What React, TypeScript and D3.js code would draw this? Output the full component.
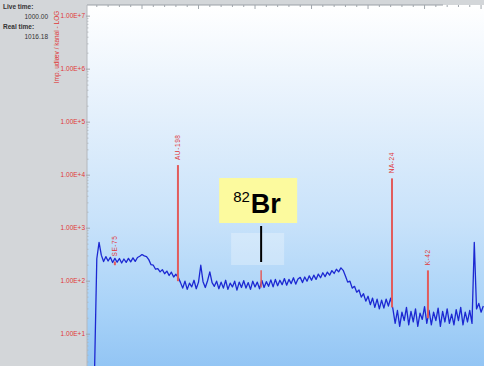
import React, { useRef, useEffect } from "react";
import * as d3 from "d3";

// spectrum counts, one value every 10 channels starting at channel 40
const channelStart = 40;
const channelStep = 10;
const counts = [
    1,
    265, 540, 310, 235, 290, 240, 282, 225, 270, 228, 268, 220, 262, 226, 270, 232, 276, 236, 280,
    295, 318, 300, 292,
    255, 205, 200, 168, 172, 150, 165, 138, 155, 128, 148, 120, 135,
    118,
    95, 74, 100, 70, 92, 78, 104, 72, 96, 200, 98, 76, 102, 150, 94, 80, 100, 72, 96, 74,
    104, 70, 92, 78, 100, 68, 96, 76, 102, 74, 94, 70, 100, 78, 96, 72, 104, 76, 98, 80,
    106, 78,
    108, 82, 104, 86, 112, 84, 108, 90, 116, 88, 110, 118, 94, 120, 100, 126, 104, 130, 108, 136,
    116, 144, 122, 148, 130, 158, 140, 168, 150, 178, 160,
    125, 96, 100, 74, 80, 62, 68, 50, 58, 42, 52, 36, 48, 32, 46, 30, 44, 31, 46, 34, 48,
    30, 16, 28, 14, 26, 18, 32, 15, 27, 17, 30, 14, 25, 19, 33, 16, 28, 15, 26, 18,
    31, 14, 27, 17, 30, 16, 24, 15, 29, 18, 32, 15, 26, 17, 28, 16,
    540, 30, 38, 26, 34,
];

// identified peaks
const peakNames = ["SE-75", "AU-198", "NA-24", "K-42"];
const peakChannels = [130, 409, 1356, 1515];
const peakTops = [235, 15500, 8700, 160];
const peakBases = [200, 100, 32, 20];

// annotated isotope
const brChannel = 777;
const brTop = 160;
const brBase = 76;

const yTickValues = [1e1, 1e2, 1e3, 1e4, 1e5, 1e6, 1e7];
const yTickLabels = ["1.00E+1", "1.00E+2", "1.00E+3", "1.00E+4", "1.00E+5", "1.00E+6", "1.00E+7"];
const yTitle = "Imp. udlæv / kanal - LOG";
const liveTime = "1000.00";
const realTime = "1016.18";

export default function App() {
    const ref = useRef(null);

    useEffect(() => {
        const svg = d3.select(ref.current);
        svg.selectAll("*").remove();
        const W = 484;
        const H = 366;
        const left = 87;
        const top = 5;
        const font = "Liberation Sans, Arial, sans-serif";

        const xScale = d3.scaleLinear().domain([0, 1763]).range([85.5, 484]);
        const yScale = d3.scaleLog().domain([Math.pow(10, 0.4), Math.pow(10, 7.21)]).range([H, top]);
        const yv = (v) => yScale(Math.max(v, Math.pow(10, 0.3)));

        const defs = svg.append("defs");
        const grad = defs.append("linearGradient").attr("id", "bg").attr("x1", 0).attr("y1", 0).attr("x2", 0).attr("y2", 1);
        [
            [0, "#ffffff"],
            [0.3, "#e4f0fc"],
            [0.6, "#c8e2fa"],
            [0.85, "#a7d2f8"],
            [1, "#93c5f4"],
        ].forEach(([o, c]) => grad.append("stop").attr("offset", o).attr("stop-color", c));
        defs.append("clipPath").attr("id", "plot").append("rect")
            .attr("x", left).attr("y", top).attr("width", W - left).attr("height", H - top);

        // left panel + plot background
        svg.append("rect").attr("x", 0).attr("y", 0).attr("width", W).attr("height", H).attr("fill", "#d3d6d9");
        svg.append("rect").attr("x", left).attr("y", top).attr("width", W - left).attr("height", H - top).attr("fill", "url(#bg)");

        const info = svg.append("g").attr("font-family", font).attr("font-size", 6.5).attr("fill", "#333");
        info.append("text").attr("x", 3).attr("y", 9).attr("font-weight", "bold").text("Live time:");
        info.append("text").attr("x", 48).attr("y", 19).attr("text-anchor", "end").text(liveTime);
        info.append("text").attr("x", 3).attr("y", 29).attr("font-weight", "bold").text("Real time:");
        info.append("text").attr("x", 48).attr("y", 39).attr("text-anchor", "end").text(realTime);

        svg.append("text")
            .attr("transform", `translate(59,47) rotate(-90)`)
            .attr("text-anchor", "middle")
            .attr("font-family", font)
            .attr("font-size", 6.5)
            .attr("fill", "#e03838")
            .text(yTitle);

        // top axis
        svg.append("line").attr("x1", left).attr("x2", 443).attr("y1", top).attr("y2", top)
            .attr("stroke", "#9aa0a6").attr("stroke-width", 1);
        d3.range(50, 1763, 50).forEach((c) => {
            const major = c % 250 === 0;
            svg.append("line")
                .attr("x1", xScale(c)).attr("x2", xScale(c))
                .attr("y1", top).attr("y2", top + (major ? 4 : 2))
                .attr("stroke", "#a0a6ac").attr("stroke-width", 1);
        });

        // left axis
        svg.append("line").attr("x1", left).attr("x2", left).attr("y1", top).attr("y2", H)
            .attr("stroke", "#b4b8bc").attr("stroke-width", 1);
        for (let e = 0; e < 8; e++) {
            for (let m = 2; m < 10; m++) {
                const v = m * Math.pow(10, e);
                const y = yScale(v);
                if (y < top || y > H) continue;
                svg.append("line").attr("x1", left).attr("x2", left + 1.5).attr("y1", y).attr("y2", y)
                    .attr("stroke", "#b0b4b8").attr("stroke-width", 0.8);
            }
        }
        yTickValues.forEach((v, i) => {
            const y = yScale(v);
            svg.append("line").attr("x1", left - 1).attr("x2", left + 3).attr("y1", y).attr("y2", y)
                .attr("stroke", "#a0a4a8").attr("stroke-width", 1);
            svg.append("text")
                .attr("x", left - 2).attr("y", y + 2.3)
                .attr("text-anchor", "end")
                .attr("font-family", font).attr("font-size", 6.5)
                .attr("fill", "#e03838")
                .text(yTickLabels[i]);
        });

        const plot = svg.append("g").attr("clip-path", "url(#plot)");

        // pale highlight behind annotation
        const bx = xScale(brChannel);
        plot.append("rect").attr("x", bx - 30).attr("y", 233).attr("width", 53).attr("height", 32)
            .attr("fill", "#ffffff").attr("opacity", 0.28);

        // spectrum
        const line = d3.line()
            .x((d, i) => xScale(channelStart + i * channelStep))
            .y((d) => yv(d));
        plot.append("path")
            .datum(counts)
            .attr("d", line)
            .attr("fill", "none")
            .attr("stroke", "#1c28d2")
            .attr("stroke-width", 1.3)
            .attr("stroke-linejoin", "round");

        // peaks
        peakNames.forEach((name, i) => {
            const x = xScale(peakChannels[i]);
            plot.append("line")
                .attr("x1", x).attr("x2", x)
                .attr("y1", yv(peakTops[i])).attr("y2", yv(peakBases[i]))
                .attr("stroke", "#e25c5c").attr("stroke-width", 2);
            plot.append("text")
                .attr("transform", `translate(${x + 2.3},${yv(peakTops[i]) - 5}) rotate(-90)`)
                .attr("font-family", font).attr("font-size", 6.5)
                .attr("letter-spacing", 0.6)
                .attr("fill", "#e03838")
                .text(name);
        });
        plot.append("line")
            .attr("x1", bx).attr("x2", bx)
            .attr("y1", yv(brTop)).attr("y2", yv(brBase))
            .attr("stroke", "#e25c5c").attr("stroke-width", 1.5);

        // annotation
        svg.append("rect").attr("x", bx - 42).attr("y", 178).attr("width", 78).attr("height", 45)
            .attr("fill", "#fcfa9e");
        svg.append("line").attr("x1", bx).attr("x2", bx).attr("y1", 226).attr("y2", 262)
            .attr("stroke", "#000").attr("stroke-width", 2);
        const lab = svg.append("text").attr("x", bx - 28).attr("y", 213)
            .attr("font-family", font).attr("fill", "#000");
        lab.append("tspan").attr("font-size", 15).attr("dy", -11).text("82");
        lab.append("tspan").attr("font-size", 27).attr("font-weight", "bold").attr("dy", 11).attr("dx", 1).text("Br");
    }, []);

    return (
        <div style={{ position: "absolute", left: 0, top: 0 }}>
            <svg ref={ref} width="484" height="366" style={{ display: "block" }}></svg>
        </div>
    );
}
